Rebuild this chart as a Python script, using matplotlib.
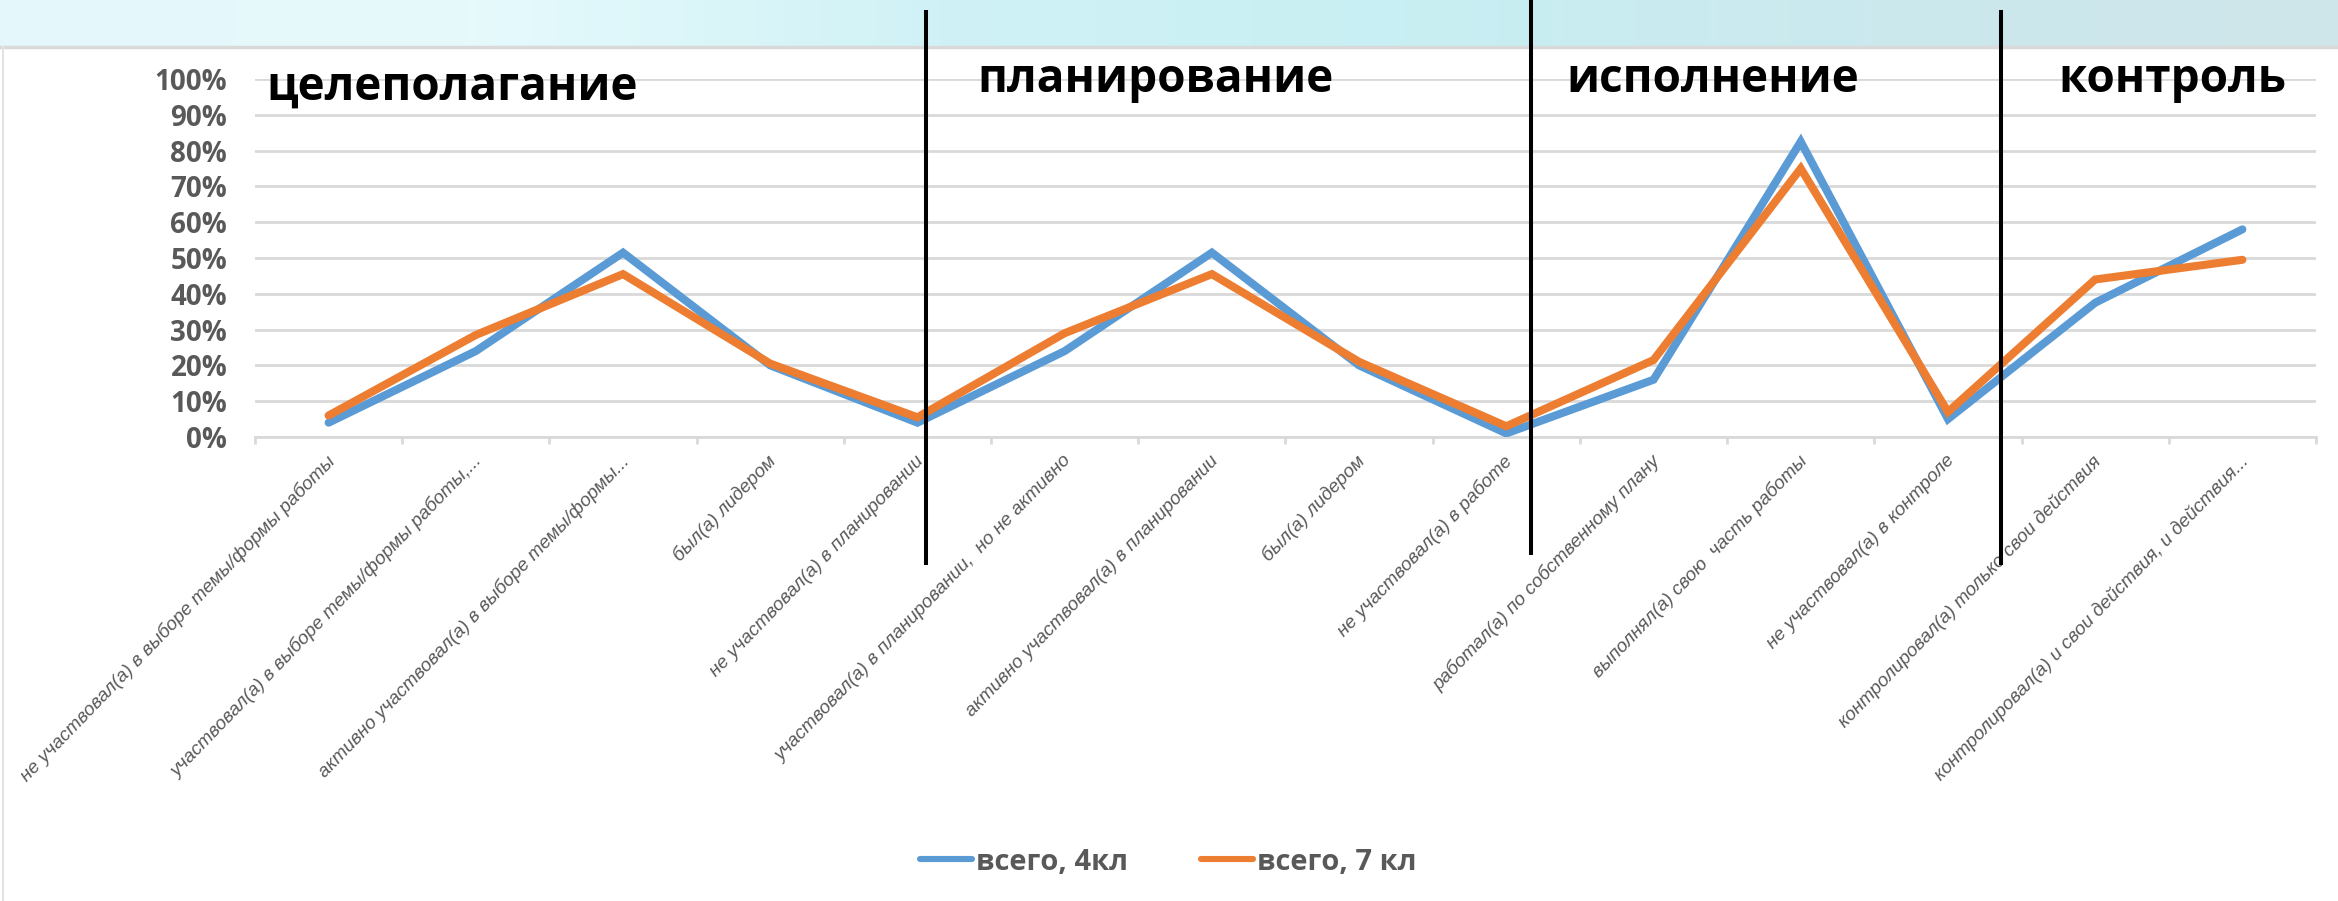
import matplotlib
matplotlib.use("Agg")
import matplotlib.pyplot as plt
import matplotlib.transforms as mtransforms
from matplotlib.lines import Line2D
from matplotlib.colors import LinearSegmentedColormap
import numpy as np

plt.rcParams['font.family'] = ['Open Sans', 'DejaVu Sans']

# ---------------- data ----------------
categories = [
    "не участвовал(а) в выборе темы/формы работы",
    "участвовал(а) в выборе темы/формы работы,...",
    "активно участвовал(а) в выборе темы/формы...",
    "был(а) лидером",
    "не участвовал(а) в планировании",
    "участвовал(а) в планировании,  но не активно",
    "активно участвовал(а) в планировании",
    "был(а) лидером",
    "не участвовал(а) в работе",
    "работал(а) по собственному плану",
    "выполнял(а) свою  часть работы",
    "не участвовал(а) в контроле",
    "контролировал(а) только свои действия",
    "контролировал(а) и свои действия, и действия...",
]
series_names = ["всего, 4кл", "всего, 7 кл"]
grade4 = [4, 24, 51.5, 20, 4, 24, 51.5, 20, 1, 16, 82.5, 5, 37.5, 58]
grade7 = [6, 28.5, 45.5, 20.5, 5.5, 29, 45.5, 21, 3, 21.5, 75, 7, 44, 49.5]
y_ticks = [0, 10, 20, 30, 40, 50, 60, 70, 80, 90, 100]
section_titles = ["целеполагание", "планирование", "исполнение", "контроль"]
divider_x = [4.06, 8.165, 11.36]

# ---------------- figure ----------------
W, H = 2338, 901
fig = plt.figure(figsize=(W / 100, H / 100), dpi=100)
fig.patch.set_facecolor("white")

def fx(px):
    return px / W

def fy(py):
    return 1 - py / H

# banner gradient at top
banner = fig.add_axes([0, fy(46), 1, 46 / H])
cmap = LinearSegmentedColormap.from_list(
    "banner", ["#e4f8fb", "#e6fafc", "#d0f2f6", "#c8eff3", "#cbe9ee", "#cfe5ea"])
banner.imshow(np.linspace(0, 1, 512)[None, :], aspect="auto", cmap=cmap,
              extent=[0, 1, 0, 1])
banner.axis("off")
fig.add_artist(Line2D([0, 1], [fy(47), fy(47)], transform=fig.transFigure,
                      color="#d9d9d9", lw=2.5))
fig.add_artist(Line2D([fx(3), fx(3)], [fy(47), 0], transform=fig.transFigure,
                      color="#e3e3e3", lw=1.5))

# main axes
ax = fig.add_axes([fx(255), fy(437), fx(2316) - fx(255), fy(79) - fy(437)])
x = np.arange(len(categories))
blue = "#5B9BD5"
orange = "#ED7D31"
ax.plot(x, np.array(grade4) / 100, color=blue, lw=5.8, solid_joinstyle="miter",
        solid_capstyle="round", zorder=3)
ax.plot(x, np.array(grade7) / 100, color=orange, lw=5.8, solid_joinstyle="miter",
        solid_capstyle="round", zorder=4)

ax.set_xlim(-0.5, len(categories) - 0.5)
ax.set_ylim(0, 1)
ax.set_yticks(np.array(y_ticks) / 100)
ax.set_yticklabels([f"{t}%" for t in y_ticks])
ax.yaxis.grid(True, color="#d9d9d9", lw=2)
ax.set_axisbelow(True)
ax.tick_params(axis="y", length=0, pad=20, labelsize=20, labelcolor="#595959")
for lab in ax.get_yticklabels():
    lab.set_fontweight("bold")

for s in ["top", "right", "left"]:
    ax.spines[s].set_visible(False)
ax.spines["bottom"].set_color("#d9d9d9")
ax.spines["bottom"].set_linewidth(2)

ax.set_xticks(x)
ax.set_xticklabels(categories, rotation=46, ha="right", va="top",
                   fontsize=13.6, style="italic", color="#595959",
                   family=["Liberation Sans", "DejaVu Sans"])
ax.tick_params(axis="x", which="major", length=0, pad=11)
shift = mtransforms.ScaledTranslation(0.10, 0, fig.dpi_scale_trans)
for lab in ax.get_xticklabels():
    lab.set_transform(lab.get_transform() + shift)
ax.set_xticks(np.arange(-0.5, len(categories), 1), minor=True)
ax.tick_params(axis="x", which="minor", length=5, width=2, color="#d9d9d9")

# divider lines
blend = mtransforms.blended_transform_factory(ax.transData, fig.transFigure)
div_spans = [(12, 563), (0, 553), (12, 563)]
for xd, (t, b) in zip(divider_x, div_spans):
    fig.add_artist(Line2D([xd, xd], [fy(t), fy(b)], transform=blend,
                          color="black", lw=2.9, clip_on=False))

# section titles
title_pos = [(266, 100), (977, 92), (1566, 92), (2058, 92)]
for txt, (px, py) in zip(section_titles, title_pos):
    fig.text(fx(px), fy(py), txt, fontsize=33, fontweight="bold",
             color="black", ha="left", va="baseline")

# legend
handles = [Line2D([], [], color=blue, lw=4.4, solid_capstyle="round"),
           Line2D([], [], color=orange, lw=4.4, solid_capstyle="round")]
leg = fig.legend(handles, series_names, loc="center",
                 bbox_to_anchor=(fx(1168), fy(862)), ncol=2, frameon=False,
                 handlelength=1.8, handletextpad=0.12, columnspacing=2.5,
                 prop={"size": 21, "weight": "bold"})
for t in leg.get_texts():
    t.set_color("#595959")

fig.savefig("out.png", dpi=100)
